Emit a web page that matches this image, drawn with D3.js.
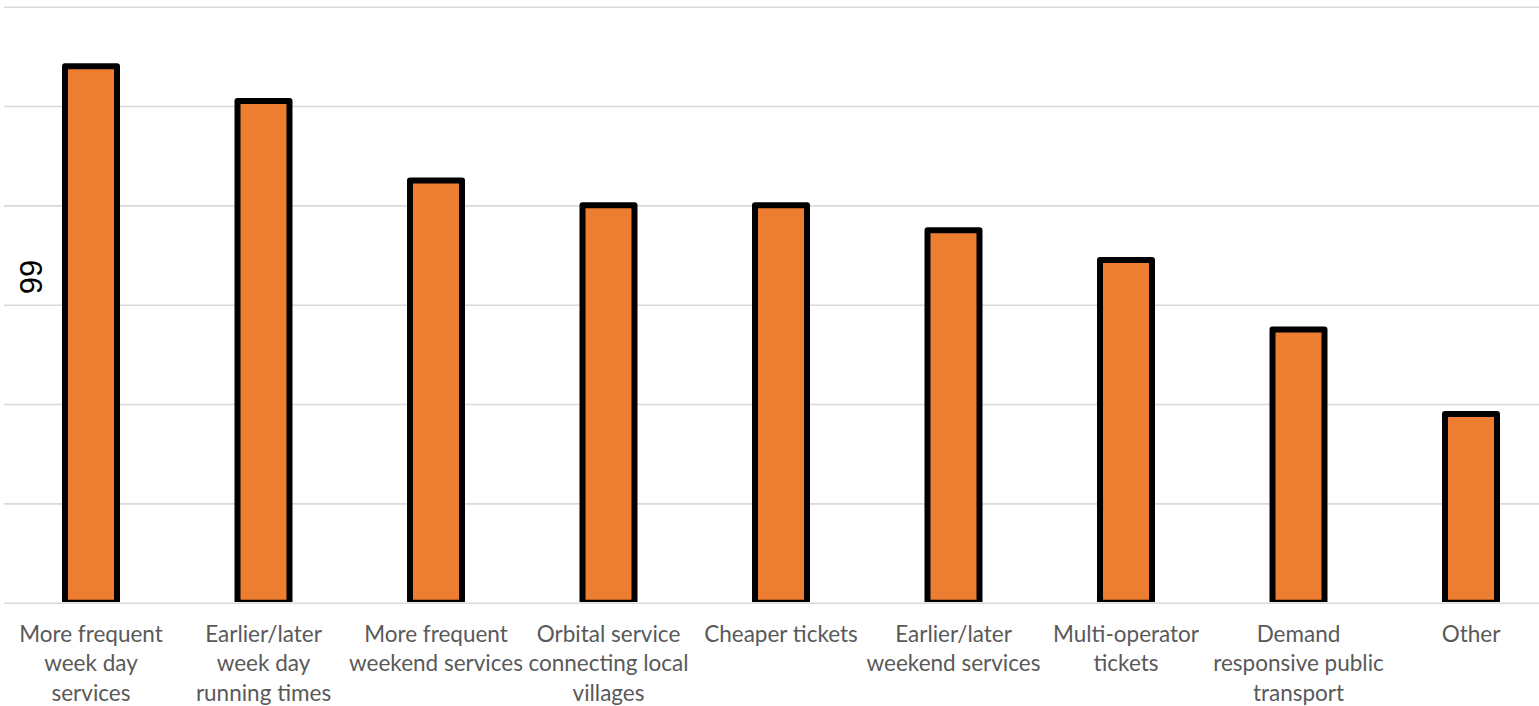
<!DOCTYPE html>
<html>
<head>
<meta charset="utf-8">
<script src="https://cdn.jsdelivr.net/npm/d3@7"></script>
<style>
  html, body { margin: 0; padding: 0; background: #fff; }
  svg { display: block; }
</style>
</head>
<body>
<svg id="chart" width="1539" height="706"></svg>
<script>
// ---- data ----
const categories = [
  ["More frequent", "week day", "services"],
  ["Earlier/later", "week day", "running times"],
  ["More frequent", "weekend services"],
  ["Orbital service", "connecting local", "villages"],
  ["Cheaper tickets"],
  ["Earlier/later", "weekend services"],
  ["Multi-operator", "tickets"],
  ["Demand", "responsive public", "transport"],
  ["Other"]
];
const values = [108, 101, 85, 80, 80, 75, 69, 55, 38];
const yTicks = [0, 20, 40, 60, 80, 100, 120];
const axisTitle = "99";

// ---- layout ----
const svg = d3.select("#chart");
const W = 1539, H = 706;
const plotTop = 6.7, plotBottom = 602.7;
const keys = categories.map((c, i) => i);

const x = d3.scaleBand()
  .domain(keys)
  .range([4.75, 1557.25])
  .paddingInner(0.6986)
  .paddingOuter(0.6986 / 2);

const y = d3.scaleLinear()
  .domain([0, 120])
  .range([plotBottom, plotTop]);

// gridlines
const grid = d3.axisLeft(y).tickValues(yTicks).tickSize(-(1539 - 4)).tickFormat("");
svg.append("g")
  .attr("transform", "translate(4,0)")
  .call(grid)
  .call(g => g.select(".domain").remove())
  .call(g => g.selectAll("line").attr("stroke", "#d9d9d9").attr("stroke-width", 1.6));

// clip for bars
svg.append("defs").append("clipPath").attr("id", "plotclip")
  .append("rect").attr("x", 0).attr("y", 0).attr("width", W).attr("height", plotBottom - 0.8);

svg.append("g")
  .attr("clip-path", "url(#plotclip)")
  .selectAll("rect")
  .data(values)
  .join("rect")
  .attr("x", (d, i) => x(i))
  .attr("y", d => y(d))
  .attr("width", x.bandwidth())
  .attr("height", d => y(0) - y(d))
  .attr("fill", "#ED7D31")
  .attr("stroke", "#000")
  .attr("stroke-width", 6)
  .attr("stroke-linejoin", "round");

// category labels
const xAxis = d3.axisBottom(x).tickSize(0).tickFormat("");
const ax = svg.append("g")
  .attr("transform", `translate(0,${plotBottom})`)
  .call(xAxis)
  .call(g => g.select(".domain").remove());

ax.selectAll(".tick").each(function(d) {
  const t = d3.select(this).append("text")
    .attr("text-anchor", "middle")
    .attr("fill", "#595959")
    .style("font-family", "Lato, 'Open Sans', sans-serif")
    .style("font-size", "22.5px");
  categories[d].forEach((line, j) => {
    t.append("tspan").attr("x", 0).attr("y", 39 + j * 29.5).text(line);
  });
});

// axis title
svg.append("text")
  .attr("transform", "translate(41.5,277) rotate(-90)")
  .attr("text-anchor", "middle")
  .attr("fill", "#000")
  .style("font-family", "'Liberation Sans', Arial, sans-serif")
  .style("font-size", "31px")
  .text(axisTitle);
</script>
</body>
</html>
